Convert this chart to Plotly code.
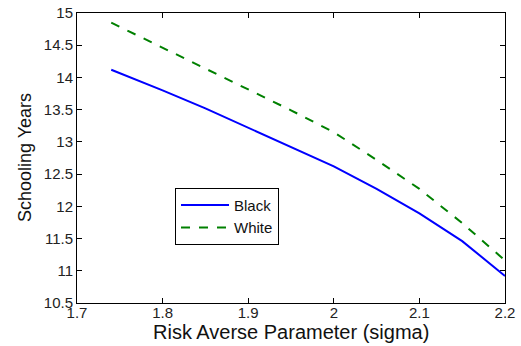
import plotly.graph_objects as go

sigma = [1.74, 1.80, 1.85, 1.90, 1.95, 2.00, 2.05, 2.10, 2.15, 2.20]
black = [14.12, 13.80, 13.52, 13.22, 12.93, 12.62, 12.27, 11.89, 11.46, 10.92]
white = [14.85, 14.46, 14.14, 13.81, 13.49, 13.15, 12.72, 12.27, 11.74, 11.16]
x_ticks = [1.7, 1.8, 1.9, 2.0, 2.1, 2.2]
x_labels = ["1.7", "1.8", "1.9", "2", "2.1", "2.2"]
y_ticks = [10.5, 11, 11.5, 12, 12.5, 13, 13.5, 14, 14.5, 15]
y_labels = ["10.5", "11", "11.5", "12", "12.5", "13", "13.5", "14", "14.5", "15"]
x_title = "Risk Averse Parameter (sigma)"
y_title = "Schooling Years"

font = "Liberation Sans, Arial, sans-serif"
fig = go.Figure()
fig.add_trace(go.Scatter(x=sigma, y=black, mode="lines", name="Black",
                         line=dict(color="#0000ff", width=2)))
fig.add_trace(go.Scatter(x=sigma, y=white, mode="lines", name="White",
                         line=dict(color="#008000", width=2, dash="dash")))

axis_common = dict(showgrid=False, zeroline=False, showline=True, linecolor="black",
                   linewidth=1, mirror="ticks", ticks="inside", ticklen=5,
                   tickcolor="black", automargin=False, ticklabeloverflow="allow",
                   tickfont=dict(family=font, size=15, color="#222"))
fig.update_xaxes(range=[1.7, 2.2], tickvals=x_ticks, ticktext=x_labels,
                 ticklabelstandoff=-4, **axis_common)
fig.update_yaxes(range=[10.5, 15], tickvals=y_ticks, ticktext=y_labels,
                 **axis_common)
fig.add_annotation(text=x_title, xref="paper", yref="paper", x=0.5, y=-0.099,
                   xanchor="center", yanchor="middle", showarrow=False,
                   font=dict(family=font, size=20, color="#111"))
fig.add_annotation(text=y_title, xref="paper", yref="paper", x=-0.123, y=0.501,
                   xanchor="center", yanchor="middle", showarrow=False, textangle=-90,
                   font=dict(family=font, size=18, color="#111"))
fig.update_layout(
    width=521, height=346,
    margin=dict(l=77, r=16, t=13, b=43),
    plot_bgcolor="white", paper_bgcolor="white",
    showlegend=True,
    legend=dict(x=0.229, y=0.397, xanchor="left", yanchor="top",
                bordercolor="black", borderwidth=1, bgcolor="white",
                font=dict(family=font, size=15, color="#111"),
                itemwidth=48, tracegroupgap=0),
)
# remove the default 8px body margin so the figure fills the window exactly
fig.write_html("out.html", config={"displayModeBar": False},
               post_script="document.body.style.margin='0';document.body.style.overflow='hidden';")
